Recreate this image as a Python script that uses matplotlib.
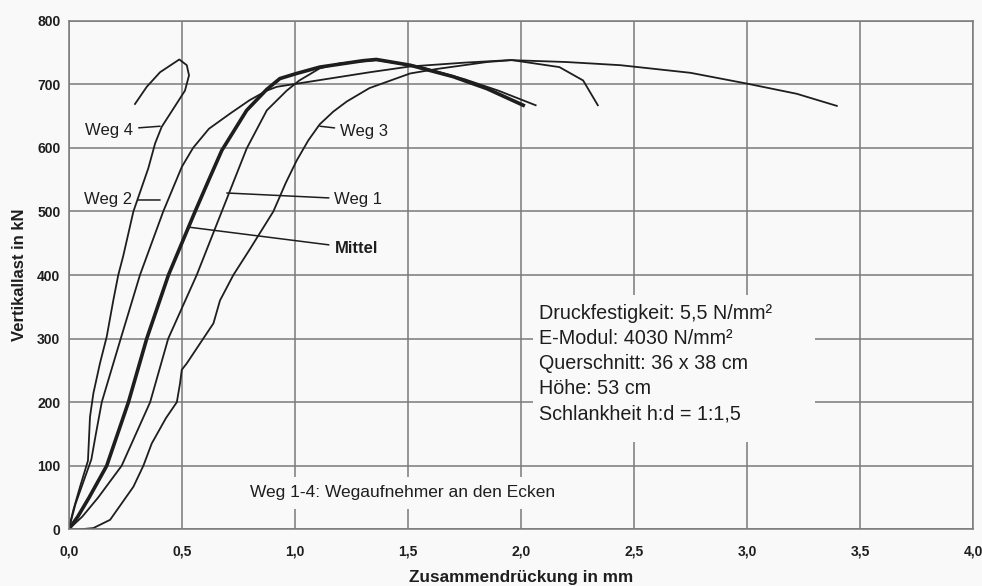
import matplotlib
matplotlib.use("Agg")
import matplotlib.pyplot as plt
from matplotlib.patches import Rectangle

plt.rcParams['font.family'] = ['Liberation Sans', 'DejaVu Sans']

# Kurven (Zusammendrückung in mm, Vertikallast in kN)
weg4_x = [0, 0.02, 0.05, 0.085, 0.094, 0.109, 0.138, 0.168, 0.197, 0.219, 0.241, 0.286,
          0.352, 0.382, 0.411, 0.478, 0.514, 0.532, 0.522, 0.489, 0.404, 0.345, 0.293]
weg4_y = [0, 30, 67, 108, 177, 214, 261, 303, 360, 400, 430, 500,
          568, 607, 633, 670, 690, 714, 730, 739, 719, 696, 669]

weg2_x = [0, 0.03, 0.07, 0.10, 0.12, 0.146, 0.23, 0.315, 0.418, 0.50, 0.55, 0.62, 0.714,
          0.80, 0.876, 0.92, 1.10, 1.333, 1.51, 1.75, 1.952, 2.2, 2.44, 2.75, 3.0, 3.22, 3.397]
weg2_y = [0, 40, 80, 110, 150, 200, 300, 400, 500, 570, 600, 630, 654,
          675, 690, 696, 706, 719, 728, 734, 738, 735, 730, 718, 701, 685, 666]

mittel_x = [0, 0.04, 0.09, 0.168, 0.264, 0.345, 0.441, 0.559, 0.62, 0.677, 0.787, 0.876,
            0.934, 1.008, 1.11, 1.30, 1.36, 1.51, 1.70, 1.85, 2.01]
mittel_y = [0, 20, 50, 100, 200, 300, 400, 500, 550, 596, 659, 692,
            709, 717, 727, 737, 739, 730, 712, 693, 667]

weg1_x = [0, 0.06, 0.13, 0.234, 0.36, 0.44, 0.566, 0.677, 0.787, 0.876, 0.964, 1.02,
          1.11, 1.2, 1.36, 1.55, 1.75, 1.9, 2.065]
weg1_y = [0, 20, 50, 100, 200, 300, 400, 500, 599, 659, 690, 706,
          725, 733, 738, 728, 708, 690, 667]

weg3_x = [0, 0.05, 0.109, 0.183, 0.286, 0.33, 0.367, 0.43, 0.478, 0.492, 0.50, 0.522, 0.58,
          0.64, 0.669, 0.728, 0.80, 0.905, 0.96, 1.008, 1.06, 1.11, 1.17, 1.23, 1.33, 1.51,
          1.627, 1.85, 1.96, 2.17, 2.275, 2.34]
weg3_y = [0, 0, 2, 15, 67, 100, 135, 175, 200, 229, 251, 261, 292,
          324, 360, 400, 440, 500, 545, 580, 612, 637, 657, 673, 694, 717,
          724, 735, 738, 727, 706, 667]

x_ticks = [0, 0.5, 1.0, 1.5, 2.0, 2.5, 3.0, 3.5, 4.0]
x_labels = ['0,0', '0,5', '1,0', '1,5', '2,0', '2,5', '3,0', '3,5', '4,0']
y_ticks = [0, 100, 200, 300, 400, 500, 600, 700, 800]

info = ("Druckfestigkeit: 5,5 N/mm²\nE-Modul: 4030 N/mm²\nQuerschnitt: 36 x 38 cm\n"
        "Höhe: 53 cm\nSchlankheit h:d = 1:1,5")
note = "Weg 1-4: Wegaufnehmer an den Ecken"

ink = '#1e1e1e'
grid_c = '#7a7a7a'
bg = '#f9f9f9'

fig = plt.figure(figsize=(9.82, 5.86), dpi=100, facecolor=bg)
ax = fig.add_axes([0.070, 0.0967, 0.921, 0.868], facecolor=bg)

ax.set_xlim(0, 4.0)
ax.set_ylim(0, 800)
ax.set_xticks(x_ticks)
ax.set_xticklabels(x_labels)
ax.set_yticks(y_ticks)
ax.tick_params(length=0, labelsize=10, colors=ink)
ax.tick_params(axis='x', pad=11)
ax.tick_params(axis='y', pad=6)
for lab in ax.get_xticklabels() + ax.get_yticklabels():
    lab.set_fontweight('bold')
ax.grid(True, color=grid_c, linewidth=1.1)
ax.set_axisbelow(True)
for s in ax.spines.values():
    s.set_color(grid_c)
    s.set_linewidth(1.1)

ax.plot(weg4_x, weg4_y, color=ink, lw=1.3)
ax.plot(weg2_x, weg2_y, color=ink, lw=1.3)
ax.plot(weg1_x, weg1_y, color=ink, lw=1.3)
ax.plot(weg3_x, weg3_y, color=ink, lw=1.3)
ax.plot(mittel_x, mittel_y, color=ink, lw=2.6)

lead = dict(arrowstyle='-', color=ink, lw=1.1, shrinkA=2, shrinkB=0)
ax.annotate('Weg 4', xy=(0.404, 634), xytext=(0.285, 628), ha='right', va='center',
            fontsize=12, color=ink, arrowprops=lead)
ax.annotate('Weg 2', xy=(0.404, 518), xytext=(0.28, 518), ha='right', va='center',
            fontsize=12, color=ink, arrowprops=lead)
ax.annotate('Weg 3', xy=(1.111, 634), xytext=(1.20, 626), ha='left', va='center',
            fontsize=12, color=ink, arrowprops=lead)
ax.annotate('Weg 1', xy=(0.699, 529), xytext=(1.175, 519), ha='left', va='center',
            fontsize=12, color=ink, arrowprops=lead)
ax.annotate('Mittel', xy=(0.537, 475), xytext=(1.175, 442), ha='left', va='center',
            fontsize=12, fontweight='bold', color=ink, arrowprops=lead)

ax.add_patch(Rectangle((2.054, 138), 1.246, 230, facecolor=bg, edgecolor='none', zorder=1.5))
ax.text(2.081, 354, info, ha='left', va='top', fontsize=14.2, color=ink,
        linespacing=1.40, zorder=3)
ax.text(0.80, 57.5, note, ha='left', va='center', fontsize=12.5, color=ink, zorder=3,
        bbox=dict(facecolor=bg, edgecolor='none', pad=6))

ax.set_xlabel('Zusammendrückung in mm', fontsize=12.3, fontweight='bold', color=ink)
ax.set_ylabel('Vertikallast in kN', fontsize=12, fontweight='bold', color=ink)
ax.xaxis.set_label_coords(0.5, -0.094)
ax.yaxis.set_label_coords(-0.054, 0.5)
ax.xaxis.label.set_va('center')
ax.yaxis.label.set_va('center')

fig.savefig('out.png', dpi=100, facecolor=bg)
